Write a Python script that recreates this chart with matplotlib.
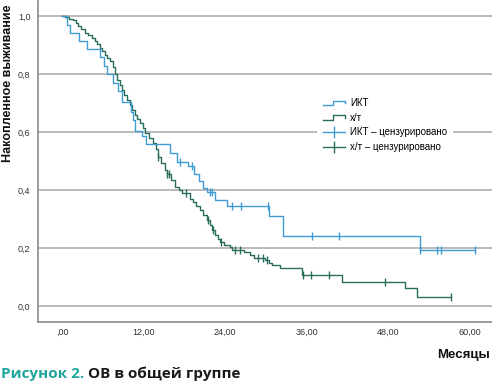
import numpy as np
import matplotlib
matplotlib.use("Agg")
import matplotlib.pyplot as plt
from matplotlib.legend_handler import HandlerBase
from matplotlib.lines import Line2D

# ---- data ----
ikt_times = [0.0, 0.8, 1.2, 2.5, 3.7, 5.6, 6.2, 6.7, 7.5, 8.3, 8.8, 10.2, 10.5, 10.8,
             11.8, 12.4, 15.9, 17.0, 18.5, 19.5, 20.2, 20.8, 21.3, 22.5, 24.3, 30.5,
             32.5, 52.7]
ikt_surv = [1.0, 0.97, 0.94, 0.915, 0.886, 0.857, 0.828, 0.80, 0.77, 0.74, 0.705, 0.67,
            0.64, 0.605, 0.585, 0.56, 0.527, 0.497, 0.483, 0.455, 0.43, 0.407, 0.393,
            0.366, 0.345, 0.31, 0.241, 0.193]
ikt_censor = [17.4, 19.2, 21.8, 22.1, 25.0, 26.3, 30.3, 36.8, 40.8, 52.7, 55.2, 55.8, 60.8]

xt_times = [0.0, 0.5, 1.0, 1.6, 2.0, 2.4, 2.8, 3.4, 3.9, 4.4, 4.9, 5.2, 5.6, 5.9, 6.3,
            6.6, 7.0, 7.5, 7.8, 8.1, 8.5, 8.8, 9.2, 9.6, 10.0, 10.3, 10.8, 11.1, 11.5,
            11.9, 12.2, 12.8, 13.4, 13.8, 14.1, 14.6, 15.2, 15.5, 16.0, 16.6, 17.2,
            17.7, 18.8, 19.3, 19.8, 20.3, 20.8, 21.4, 21.8, 22.1, 22.5, 22.9, 23.3,
            23.9, 24.7, 25.0, 26.8, 27.7, 28.3, 29.9, 30.5, 30.9, 32.1, 35.3, 41.2,
            50.5, 52.3]
xt_surv = [1.0, 0.995, 0.99, 0.985, 0.975, 0.965, 0.955, 0.94, 0.935, 0.925, 0.915,
           0.905, 0.89, 0.878, 0.866, 0.855, 0.845, 0.824, 0.80, 0.78, 0.762, 0.745,
           0.728, 0.71, 0.693, 0.676, 0.66, 0.645, 0.63, 0.613, 0.597, 0.58, 0.562,
           0.54, 0.514, 0.492, 0.469, 0.455, 0.435, 0.41, 0.40, 0.39, 0.37, 0.359,
           0.345, 0.331, 0.315, 0.297, 0.28, 0.262, 0.245, 0.232, 0.22, 0.21, 0.203,
           0.193, 0.186, 0.176, 0.166, 0.159, 0.15, 0.141, 0.131, 0.107, 0.083,
           0.062, 0.031]
xt_censor = [14.1, 15.5, 15.7, 18.3, 21.5, 22.2, 23.4, 25.5, 26.2, 28.9, 29.6, 30.2,
             35.5, 36.7, 39.3, 47.6, 57.3]

x_ticks = [0, 12, 24, 36, 48, 60]
x_tick_labels = [",00", "12,00", "24,00", "36,00", "48,00", "60,00"]
y_ticks = [0.0, 0.2, 0.4, 0.6, 0.8, 1.0]
y_tick_labels = ["0,0", "0,2", "0,4", "0,6", "0,8", "1,0"]

labels = ["ИКТ", "х/т", "ИКТ – цензурировано", "х/т – цензурировано"]

c_ikt = "#3f9bd4"
c_xt = "#2a6d5c"

fig = plt.figure(figsize=(4.92, 3.84), dpi=100)
ax = fig.add_axes([38 / 492, 62 / 384, 1 - 38 / 492, 1 - 62 / 384])
ax.set_xlim(-3.53, 63.3)
ax.set_ylim(-0.055, 1.055)


def draw(times, surv, cens, color):
    t = list(times) + [max(cens)]
    s = list(surv) + [surv[-1]]
    ax.step(t, s, where="post", color=color, lw=1.0, zorder=3)
    idx = np.searchsorted(np.array(times), np.array(cens), side="right") - 1
    cy = np.array(surv)[idx]
    ax.plot(cens, cy, linestyle="none", marker="|", markersize=6, mew=1.0,
            color=color, zorder=4)


draw(xt_times, xt_surv, xt_censor, c_xt)
draw(ikt_times, ikt_surv, ikt_censor, c_ikt)

for y in y_ticks:
    ax.axhline(y, color="#b4b4b4", lw=1.3, zorder=1)

for side in ["top", "right"]:
    ax.spines[side].set_visible(False)
for side in ["left", "bottom"]:
    ax.spines[side].set_color("#8a8a8a")
    ax.spines[side].set_linewidth(1.2)

ax.set_xticks(x_ticks)
ax.set_xticklabels(x_tick_labels)
ax.set_yticks(y_ticks)
ax.set_yticklabels(y_tick_labels)
ax.tick_params(length=0, labelsize=6.5, colors="#333333")
ax.tick_params(axis="y", pad=5.5)
ax.tick_params(axis="x", pad=4.5)
for lab in ax.get_xticklabels() + ax.get_yticklabels():
    lab.set_family("Liberation Sans")

fig.text(8 / 492, 1 - 83 / 384, "Накопленное выживание", rotation=90,
         ha="center", va="center", fontsize=9, fontweight="bold",
         family="Liberation Sans", color="#111111")
fig.text(490 / 492, 1 - 355 / 384, "Месяцы", ha="right", va="center",
         fontsize=9.5, fontweight="bold", family="Liberation Sans", color="#111111")

t1 = fig.text(1 / 492, 1 - 374 / 384, "Рисунок 2. ", ha="left", va="center",
              fontsize=11, fontweight="bold", family="Open Sans", color="#1ea59c")
fig.canvas.draw()
bb = t1.get_window_extent()
fig.text(bb.x1 / 492, 1 - 374 / 384, "ОВ в общей группе", ha="left", va="center",
         fontsize=11, fontweight="bold", family="Open Sans", color="#1a1a1a")


class StepHandler(HandlerBase):
    def create_artists(self, legend, orig_handle, xdescent, ydescent, width, height,
                       fontsize, trans):
        w, h = width, height
        xs = [-xdescent, -xdescent + 0.45 * w, -xdescent + 0.45 * w, -xdescent + w,
              -xdescent + w]
        ys = [-ydescent + 0.15 * h, -ydescent + 0.15 * h, -ydescent + 0.75 * h,
              -ydescent + 0.75 * h, -ydescent + 0.45 * h]
        ln = Line2D(xs, ys, color=orig_handle.get_color(), lw=1.0, transform=trans)
        return [ln]


h1 = Line2D([], [], color=c_ikt)
h2 = Line2D([], [], color=c_xt)
h3 = Line2D([], [], color=c_ikt, marker="|", markersize=8, lw=1.0)
h4 = Line2D([], [], color=c_xt, marker="|", markersize=8, lw=1.0)
leg = ax.legend([h1, h2, h3, h4], labels,
                handler_map={h1: StepHandler(), h2: StepHandler()},
                loc="center left", frameon=True, framealpha=1.0,
                edgecolor="none", facecolor="white", fancybox=False,
                prop={"family": "Liberation Sans", "size": 7}, handlelength=2.3,
                handletextpad=0.5, labelspacing=0.5, borderpad=0.6)
leg.set_zorder(5)
leg.set_bbox_to_anchor((312 / 492, 1 - 125 / 384), transform=fig.transFigure)

fig.savefig("out.png", dpi=100)
